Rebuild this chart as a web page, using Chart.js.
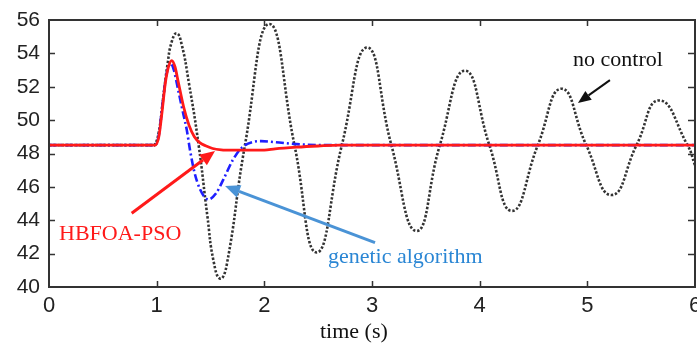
<!DOCTYPE html>
<html>
<head>
<meta charset="utf-8">
<script src="https://cdn.jsdelivr.net/npm/chart.js@4.4.1/dist/chart.umd.min.js"></script>
<style>
  html, body { margin: 0; padding: 0; background: #fff; }
  canvas { display: block; }
</style>
</head>
<body>
<canvas id="c" width="697" height="343"></canvas>
<script>
// Frequency response after a load disturbance at t = 1 s

// HBFOA-PSO controller
const tPso = [0, 0.985, 1.02, 1.05, 1.08, 1.11, 1.14, 1.17, 1.2, 1.25, 1.3, 1.35, 1.4, 1.46, 1.52, 1.6, 1.7, 2.0, 2.1, 2.3, 2.5, 2.7, 6];
const vPso = [48.5, 48.5, 49.0, 50.5, 52.2, 53.2, 53.57, 53.2, 52.3, 50.8, 49.7, 49.0, 48.65, 48.45, 48.3, 48.22, 48.2, 48.2, 48.28, 48.38, 48.45, 48.5, 48.5];

// Genetic algorithm controller
const tGa = [0, 0.985, 1.02, 1.05, 1.08, 1.1, 1.13, 1.16, 1.2, 1.25, 1.28, 1.31, 1.35, 1.4, 1.48, 1.55, 1.62, 1.71, 1.79, 1.9, 1.97, 2.1, 2.3, 2.6, 6];
const vGa = [48.5, 48.5, 49.1, 50.7, 52.3, 53.0, 53.4, 53.0, 51.8, 50.3, 49.4, 48.2, 46.9, 45.9, 45.25, 45.6, 46.45, 47.64, 48.34, 48.7, 48.74, 48.68, 48.56, 48.5, 48.5];

// No control
const tNone = [0, 0.9, 0.95, 0.98, 1.02, 1.06, 1.1, 1.14, 1.186, 1.23, 1.3, 1.39, 1.47, 1.53, 1.59, 1.65, 1.82, 2.046, 2.28, 2.486, 2.72, 2.955, 3.18, 3.414, 3.63, 3.863, 4.09, 4.30, 4.54, 4.76, 4.99, 5.225, 5.457, 5.667, 5.93, 6.0];
const vNone = [48.5, 48.5, 48.5, 48.5, 49.3, 51.3, 53.3, 54.7, 55.2, 54.6, 52.2, 48.5, 44.3, 41.5, 40.5, 41.3, 48.5, 55.76, 48.5, 42.07, 48.5, 54.35, 48.5, 43.36, 48.5, 52.96, 48.5, 44.56, 48.5, 51.88, 48.5, 45.51, 48.5, 51.18, 48.5, 47.3];

// Axis ticks
const xTicks = [0, 1, 2, 3, 4, 5, 6];
const yTicks = [40, 42, 44, 46, 48, 50, 52, 54, 56];

const pts = (t, v) => t.map((x, i) => ({ x, y: v[i] }));

const serif = '"Liberation Serif", "Times New Roman", serif';

function arrow(ctx, x0, y0, x1, y1, color, width, headLen, headW) {
  const ang = Math.atan2(y1 - y0, x1 - x0);
  const bx = x1 - headLen * Math.cos(ang);
  const by = y1 - headLen * Math.sin(ang);
  ctx.strokeStyle = color;
  ctx.fillStyle = color;
  ctx.lineWidth = width;
  ctx.beginPath();
  ctx.moveTo(x0, y0);
  ctx.lineTo(bx, by);
  ctx.stroke();
  ctx.beginPath();
  ctx.moveTo(x1, y1);
  ctx.lineTo(bx + (headW / 2) * Math.sin(ang), by - (headW / 2) * Math.cos(ang));
  ctx.lineTo(bx - (headW / 2) * Math.sin(ang), by + (headW / 2) * Math.cos(ang));
  ctx.closePath();
  ctx.fill();
}

// Box frame, inward ticks and curve annotations
const overlay = {
  id: 'overlay',
  afterDatasetsDraw(chart) {
    const { ctx, chartArea: a, scales: { x, y } } = chart;
    ctx.save();
    ctx.strokeStyle = '#333';
    ctx.lineWidth = 2;
    ctx.strokeRect(a.left, a.top, a.right - a.left, a.bottom - a.top);

    ctx.lineWidth = 1.5;
    x.ticks.forEach((t, i) => {
      if (i === 0 || i === x.ticks.length - 1) return;
      const px = Math.round(x.getPixelForTick(i)) + 0.5;
      ctx.beginPath();
      ctx.moveTo(px, a.bottom); ctx.lineTo(px, a.bottom - 6);
      ctx.moveTo(px, a.top); ctx.lineTo(px, a.top + 6);
      ctx.stroke();
    });
    y.ticks.forEach((t, i) => {
      if (i === 0 || i === y.ticks.length - 1) return;
      const py = Math.round(y.getPixelForTick(i)) + 0.5;
      ctx.beginPath();
      ctx.moveTo(a.left, py); ctx.lineTo(a.left + 6, py);
      ctx.moveTo(a.right, py); ctx.lineTo(a.right - 7, py);
      ctx.stroke();
    });

    const X = v => x.getPixelForValue(v);
    const Y = v => y.getPixelForValue(v);

    arrow(ctx, X(0.768), Y(44.42), X(1.542), Y(48.15), '#ff1a1a', 3, 15, 13);
    arrow(ctx, X(3.028), Y(42.66), X(1.635), Y(46.05), '#4a93d6', 3, 15, 13);
    arrow(ctx, X(5.21), Y(52.4), X(4.913), Y(51.03), '#111', 2, 13, 11);

    ctx.font = '22px ' + serif;
    ctx.textBaseline = 'alphabetic';
    ctx.textAlign = 'left';
    ctx.fillStyle = '#111';
    ctx.fillText('no control', X(4.867), Y(53.24));
    ctx.fillStyle = '#ff1a1a';
    ctx.fillText('HBFOA-PSO', X(0.093), Y(42.82));
    ctx.fillStyle = '#2a86d4';
    ctx.fillText('genetic algorithm', X(2.591), Y(41.44));
    ctx.fillStyle = '#111';
    ctx.fillText('time (s)', X(2.517), a.bottom + 51);
    ctx.restore();
  }
};

new Chart(document.getElementById('c'), {
  type: 'line',
  data: {
    datasets: [
      {
        label: 'HBFOA-PSO',
        data: pts(tPso, vPso),
        borderColor: '#ff1a1a',
        borderWidth: 2.8,
        pointRadius: 0,
        cubicInterpolationMode: 'monotone'
      },
      {
        label: 'genetic algorithm',
        data: pts(tGa, vGa),
        borderColor: '#1f1fff',
        borderWidth: 2.6,
        borderDash: [8, 3, 2, 3],
        pointRadius: 0,
        cubicInterpolationMode: 'monotone'
      },
      {
        label: 'no control',
        data: pts(tNone, vNone),
        borderColor: '#333',
        borderWidth: 2.6,
        borderDash: [2.4, 1.8],
        pointRadius: 0,
        tension: 0.5
      }
    ]
  },
  options: {
    responsive: false,
    animation: false,
    layout: { padding: { left: 0, right: 2, top: 20, bottom: 0 } },
    plugins: { legend: { display: false }, tooltip: { enabled: false } },
    scales: {
      x: {
        type: 'linear',
        min: xTicks[0],
        max: xTicks[xTicks.length - 1],
        border: { display: false },
        grid: { display: false, drawTicks: false },
        ticks: {
          stepSize: 1,
          padding: 6,
          color: '#222',
          font: { family: '"Liberation Sans", Arial, sans-serif', size: 22 }
        },
        afterFit(s) { s.height = 56; s.paddingLeft = 0; s.paddingRight = 0; }
      },
      y: {
        min: yTicks[0],
        max: yTicks[yTicks.length - 1],
        border: { display: false },
        grid: { display: false, drawTicks: false },
        ticks: {
          stepSize: 2,
          padding: 9,
          color: '#222',
          font: { family: '"Liberation Sans", Arial, sans-serif', size: 21 }
        },
        afterFit(s) { s.width = 49; s.paddingTop = 0; s.paddingBottom = 0; }
      }
    }
  },
  plugins: [overlay]
});
</script>
</body>
</html>
